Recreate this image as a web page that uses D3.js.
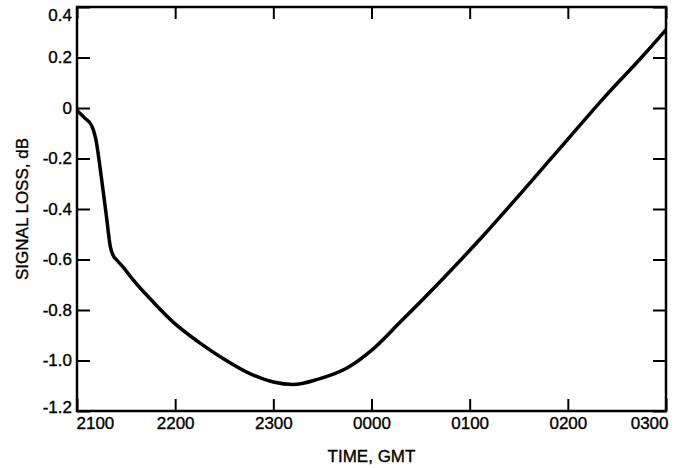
<!DOCTYPE html>
<html>
<head>
<meta charset="utf-8">
<script src="https://cdn.jsdelivr.net/npm/d3@7"></script>
<style>
  body { margin: 0; background: #fff; }
  svg text { font-family: "Liberation Sans", Arial, Helvetica, sans-serif; fill: #000; }
</style>
</head>
<body>
<div id="chart"></div>
<script>
/* hours after 2100 GMT on the first day, 24 = 0000, 27 = 0300 */
const timeHours = [21.0, 21.08, 21.15, 21.19, 21.25, 21.30, 21.34, 21.37, 21.40, 21.47,
    21.57, 21.78, 22.0, 22.25, 22.5, 22.75, 23.0, 23.2, 23.45, 23.75,
    24.0, 24.3, 24.73, 25.14, 25.55, 25.99, 26.39, 26.75, 27.0];
const lossDb = [-0.01, -0.04, -0.07, -0.12, -0.28, -0.43, -0.55, -0.585, -0.60, -0.63,
    -0.68, -0.77, -0.855, -0.93, -0.995, -1.05, -1.085, -1.095, -1.075, -1.03,
    -0.96, -0.845, -0.675, -0.505, -0.325, -0.128, 0.05, 0.2, 0.31];

const xTickValues = [21, 22, 23, 24, 25, 26, 27];
const xTickLabels = ["2100", "2200", "2300", "0000", "0100", "0200", "0300"];
const yTickValues = [0.4, 0.2, 0, -0.2, -0.4, -0.6, -0.8, -1.0, -1.2];

const width = 679, height = 468;
const margin = {top: 7, right: 13, bottom: 57, left: 77};
const fontSize = 17;

const svg = d3.select("#chart").append("svg")
    .attr("width", width)
    .attr("height", height);

const x = d3.scaleLinear()
    .domain([21, 27])
    .range([margin.left, width - margin.right]);
const y = d3.scaleLinear()
    .domain([-1.2, 0.4])
    .range([height - margin.bottom, margin.top]);

const yFormat = d => (d === 0 ? "0" : d.toFixed(1));
const xFormat = d => xTickLabels[xTickValues.indexOf(d)];

/* all ticks point into the plot */
const bottomAxis = d3.axisBottom(x).tickValues(xTickValues).tickFormat(xFormat)
    .tickSizeInner(-12).tickSizeOuter(0).tickPadding(6);
const topAxis = d3.axisTop(x).tickValues(xTickValues).tickFormat("")
    .tickSizeInner(-12).tickSizeOuter(0);
const leftAxis = d3.axisLeft(y).tickValues(yTickValues).tickFormat(yFormat)
    .tickSizeInner(-13).tickSizeOuter(0).tickPadding(5);
const rightAxis = d3.axisRight(y).tickValues(yTickValues).tickFormat("")
    .tickSizeInner(-13).tickSizeOuter(0);

const gb = svg.append("g").attr("transform", `translate(0,${height - margin.bottom})`).call(bottomAxis);
const gt = svg.append("g").attr("transform", `translate(0,${margin.top})`).call(topAxis);
const gl = svg.append("g").attr("transform", `translate(${margin.left},0)`).call(leftAxis);
const gr = svg.append("g").attr("transform", `translate(${width - margin.right},0)`).call(rightAxis);

[gb, gt, gl, gr].forEach(g => {
    g.select(".domain").remove();
    g.selectAll(".tick line").attr("stroke", "#000").attr("stroke-width", 2);
    g.selectAll(".tick text")
        .style("font-size", fontSize + "px")
        .attr("fill", "#000")
        .attr("stroke", "#000")
        .attr("stroke-width", 0.35);
});

/* keep the end labels inside the frame, as in the original */
gb.selectAll(".tick text")
    .attr("text-anchor", (d, i) => (i === 0 ? "start" : i === xTickValues.length - 1 ? "end" : "middle"))
    .attr("dx", (d, i) => (i === 0 ? -1 : i === xTickValues.length - 1 ? 2 : 0));
gl.selectAll(".tick text")
    .attr("dy", d => (d === 0.4 ? "0.8em" : d === -1.2 ? "0.1em" : "0.32em"));

/* frame */
svg.append("rect")
    .attr("x", margin.left)
    .attr("y", margin.top)
    .attr("width", width - margin.left - margin.right)
    .attr("height", height - margin.top - margin.bottom)
    .attr("fill", "none")
    .attr("stroke", "#000")
    .attr("stroke-width", 2.5);

/* signal loss curve */
const data = timeHours.map((t, i) => ({t: t, v: lossDb[i]}));
const line = d3.line()
    .x(d => x(d.t))
    .y(d => y(d.v))
    .curve(d3.curveMonotoneX);
svg.append("path")
    .datum(data)
    .attr("d", line)
    .attr("fill", "none")
    .attr("stroke", "#000")
    .attr("stroke-width", 3.5)
    .attr("stroke-linejoin", "round");

/* axis titles */
svg.append("text")
    .attr("x", (margin.left + width - margin.right) / 2)
    .attr("y", 462)
    .attr("text-anchor", "middle")
    .attr("stroke", "#000")
    .attr("stroke-width", 0.35)
    .style("font-size", fontSize + "px")
    .text("TIME, GMT");
svg.append("text")
    .attr("transform", `translate(28,${(margin.top + height - margin.bottom) / 2}) rotate(-90)`)
    .attr("text-anchor", "middle")
    .attr("stroke", "#000")
    .attr("stroke-width", 0.35)
    .style("font-size", fontSize + "px")
    .text("SIGNAL LOSS, dB");
</script>
</body>
</html>
